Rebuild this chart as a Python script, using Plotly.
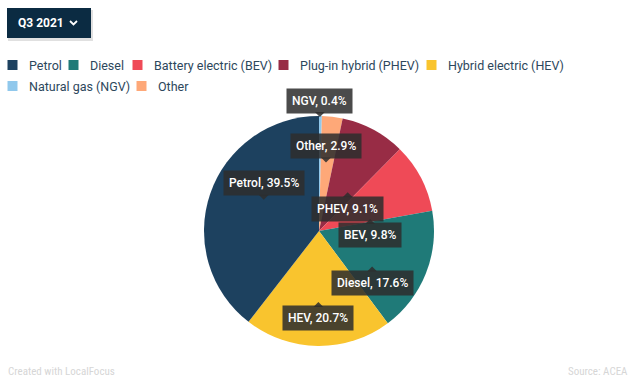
import math
import plotly.graph_objects as go

# ---- data ----
slice_labels = ["Natural gas (NGV)", "Other", "Plug-in hybrid (PHEV)", "Battery electric (BEV)",
                "Diesel", "Hybrid electric (HEV)", "Petrol"]
short_labels = ["NGV", "Other", "PHEV", "BEV", "Diesel", "HEV", "Petrol"]
shares = [0.4, 2.9, 9.1, 9.8, 17.6, 20.7, 39.5]
colors = ["#90c8ec", "#fea878", "#982c45", "#ef4a57", "#1f7a78", "#f9c42e", "#1d415f"]
legend_order = ["Petrol", "Diesel", "Battery electric (BEV)", "Plug-in hybrid (PHEV)",
                "Hybrid electric (HEV)", "Natural gas (NGV)", "Other"]
period = "Q3 2021"
source = "Source: ACEA"
credit = "Created with LocalFocus"

# ---- layout / style ----
W, H = 640, 384
CX, CY, R = 319, 231, 115
# legend entry text positions (px): (x of text start, y of row centre)
legend_pos = [(27, 65), (88, 65), (152, 65), (298, 65), (446, 65), (27, 86), (156, 86)]
# label nudges (px) and pointer direction (+1 pointer up / box below, -1 pointer down / box above)
nudges = [(0, -45), (-1, 0), (-4, 22), (-10, 20), (-11, 10), (0, 2), (10, -9)]
pointer_dir = [-1, -1, 1, 1, 1, 1, -1]
BOX_H = 23
PTR = 5
box_col = "rgba(45,45,45,0.86)"
cond_font = "Roboto Condensed, Liberation Sans Narrow, DejaVu Sans Condensed, Roboto"

def px(x):
    return x / W

def py(y):
    return 1 - y / H

fig = go.Figure()
fig.add_trace(go.Pie(
    labels=slice_labels, values=shares, sort=False, direction="clockwise", rotation=0,
    marker=dict(colors=colors, line=dict(width=0)), textinfo="none", hoverinfo="label+percent",
    showlegend=False,
    domain=dict(x=[px(CX - R), px(CX + R)], y=[py(CY + R), py(CY - R)]),
))

annotations = []
shapes = []

# legend (drawn as text + swatches)
color_of = dict(zip(slice_labels, colors))
for name, (tx, ty) in zip(legend_order, legend_pos):
    shapes.append(dict(type="rect", xref="paper", yref="paper",
                       x0=px(tx - 19.5), x1=px(tx - 9.5), y0=py(ty + 5), y1=py(ty - 5),
                       fillcolor=color_of[name], line=dict(width=0)))
    annotations.append(dict(x=px(tx), y=py(ty), xref="paper", yref="paper", xanchor="left",
                            yanchor="middle", text=name, showarrow=False,
                            font=dict(family="Roboto", size=12.5, color="#2d475c")))

total = sum(shares)
cum = 0
for i, v in enumerate(shares):
    mid = (cum + v / 2) / total * 2 * math.pi
    cum += v
    ax = CX + 0.6 * R * math.sin(mid) + nudges[i][0]
    ay = CY - 0.6 * R * math.cos(mid) + nudges[i][1]
    d = pointer_dir[i]
    by = ay + d * (PTR + BOX_H / 2)
    annotations.append(dict(
        x=px(ax), y=py(by), xref="paper", yref="paper", xanchor="center", yanchor="middle",
        text=f"{short_labels[i]}, {v}%", showarrow=False, bgcolor=box_col, borderpad=5,
        font=dict(family="Roboto", size=12, color="white", weight=500)))
    tip_y = ay
    base_y = ay + d * PTR
    path = (f"M {px(ax)} {py(tip_y)} L {px(ax - PTR)} {py(base_y)} "
            f"L {px(ax + PTR)} {py(base_y)} Z")
    shapes.append(dict(type="path", xref="paper", yref="paper", path=path,
                       fillcolor=box_col, line=dict(width=0)))

# dropdown-like button
shapes.append(dict(type="rect", xref="paper", yref="paper", x0=px(8), x1=px(93), y0=py(41), y1=py(10),
                   fillcolor="rgba(0,0,0,0.12)", line=dict(width=0), layer="above"))
shapes.append(dict(type="rect", xref="paper", yref="paper", x0=px(7), x1=px(91), y0=py(38), y1=py(8),
                   fillcolor="#0b2b42", line=dict(width=0), layer="above"))
shapes.append(dict(type="path", xref="paper", yref="paper",
                   path=f"M {px(70)} {py(21)} L {px(73.5)} {py(24.5)} L {px(77)} {py(21)}",
                   line=dict(color="white", width=1.8), layer="above"))
annotations.append(dict(x=px(15.5), y=py(23), xref="paper", yref="paper", xanchor="left",
                        yanchor="middle", text=period, showarrow=False,
                        font=dict(family="Roboto", size=12, color="white", weight=700)))

annotations.append(dict(x=px(6), y=py(371), xref="paper", yref="paper", xanchor="left",
                        yanchor="middle", text=credit, showarrow=False,
                        font=dict(family=cond_font, size=11, color="#d6d6d6")))
annotations.append(dict(x=px(630), y=py(371), xref="paper", yref="paper", xanchor="right",
                        yanchor="middle", text=source, showarrow=False,
                        font=dict(family=cond_font, size=11, color="#d6d6d6")))

fig.update_layout(
    width=W, height=H, margin=dict(l=0, r=0, t=0, b=0, autoexpand=False),
    paper_bgcolor="white", plot_bgcolor="white", showlegend=False,
    annotations=annotations, shapes=shapes,
)

fig.write_html("out.html", config={"displayModeBar": False},
               post_script="document.body.style.margin='0';")
